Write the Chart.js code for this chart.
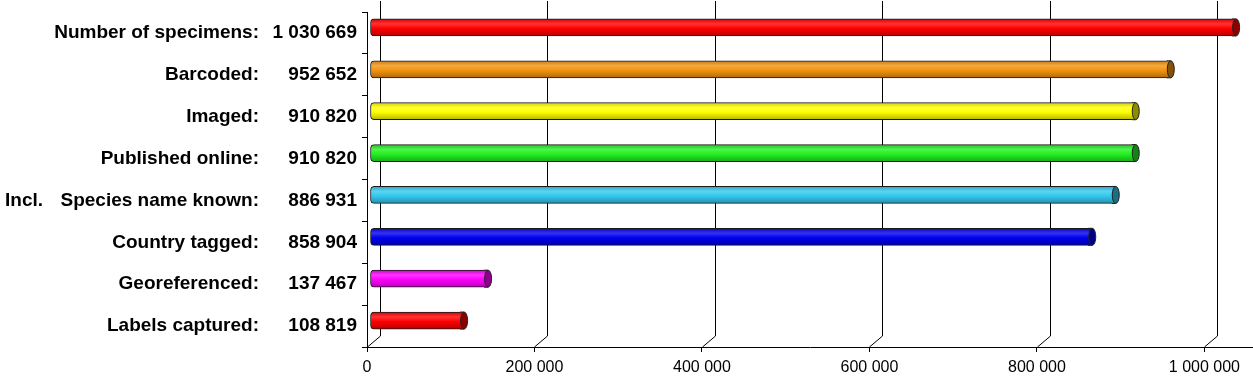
<!DOCTYPE html>
<html>
<head>
<meta charset="utf-8">
<script src="https://cdn.jsdelivr.net/npm/chart.js@4/dist/chart.umd.min.js"></script>
<style>
  body { margin: 0; background: #fff; }
  #wrap { width: 1253px; height: 386px; position: relative; }
</style>
</head>
<body>
<div id="wrap"><canvas id="specimenChart"></canvas></div>
<script>
// values
const categories = ['Number of specimens:', 'Barcoded:', 'Imaged:', 'Published online:',
    'Species name known:', 'Country tagged:', 'Georeferenced:', 'Labels captured:'];
const prefixes = ['', '', '', '', 'Incl.', '', '', ''];
const values = [1030669, 952652, 910820, 910820, 886931, 858904, 137467, 108819];
const barColors = ['#ff0000', '#f39410', '#ffff00', '#22f022', '#33c8ee', '#0000ee', '#ff00ff', '#ff0000'];
const xTicks = [0, 200000, 400000, 600000, 800000, 1000000];

const FONT = '"Liberation Sans", Arial, sans-serif';

function fmt(n) {
    return String(n).replace(/\B(?=(\d{3})+(?!\d))/g, ' ');
}

function shade(hex, f) {
    const n = parseInt(hex.slice(1), 16);
    let r = (n >> 16) & 255, g = (n >> 8) & 255, b = n & 255;
    if (f < 1) {
        r *= f; g *= f; b *= f;
    } else {
        const t = f - 1;
        r += (255 - r) * t; g += (255 - g) * t; b += (255 - b) * t;
    }
    return `rgb(${Math.round(r)},${Math.round(g)},${Math.round(b)})`;
}

function barFill(ctx) {
    const chart = ctx.chart;
    const base = barColors[ctx.dataIndex];
    if (!chart.chartArea || !chart.scales.y) return base;
    const yc = chart.scales.y.getPixelForValue(ctx.dataIndex);
    const g = chart.ctx.createLinearGradient(0, yc - 9, 0, yc + 9);
    g.addColorStop(0, shade(base, 0.8));
    g.addColorStop(0.3, shade(base, 1.2));
    g.addColorStop(0.55, base);
    g.addColorStop(1, shade(base, 0.7));
    return g;
}

// 3D look: back wall grid lines, shifted bars and end caps, left labels
const depthPlugin = {
    id: 'depth',
    beforeDatasetsDraw(chart) {
        const ctx = chart.ctx;
        const x = chart.scales.x;
        const { top, bottom } = chart.chartArea;
        ctx.save();
        ctx.strokeStyle = '#000';
        ctx.lineWidth = 1;
        xTicks.forEach(v => {
            const px = Math.round(x.getPixelForValue(v)) + 0.5;
            ctx.beginPath();
            ctx.moveTo(px, bottom);
            ctx.lineTo(px + 13, bottom - 11);
            ctx.lineTo(px + 13, top - 11);
            ctx.stroke();
        });
        ctx.restore();
        ctx.save();
        ctx.translate(3, -5.5);
    },
    afterDatasetsDraw(chart) {
        const ctx = chart.ctx;
        const meta = chart.getDatasetMeta(0);
        meta.data.forEach((el, i) => {
            const h = el.height / 2;
            // short extension of the tube before the end cap
            ctx.fillStyle = el.options.backgroundColor;
            ctx.fillRect(el.x - 1, el.y - h, 4, el.height);
            ctx.strokeStyle = '#1a1a1a';
            ctx.lineWidth = 1;
            ctx.beginPath();
            ctx.moveTo(el.x - 1, el.y - h);
            ctx.lineTo(el.x + 3, el.y - h);
            ctx.moveTo(el.x - 1, el.y + h);
            ctx.lineTo(el.x + 3, el.y + h);
            ctx.stroke();
            ctx.beginPath();
            ctx.ellipse(el.x + 3, el.y, 3.5, h, 0, 0, Math.PI * 2);
            ctx.fillStyle = shade(barColors[i], 0.55);
            ctx.fill();
            ctx.strokeStyle = '#222';
            ctx.stroke();
        });
        ctx.restore();
    },
    afterDraw(chart) {
        const ctx = chart.ctx;
        const y = chart.scales.y;
        ctx.save();
        ctx.font = 'bold 19px ' + FONT;
        ctx.fillStyle = '#000';
        ctx.textBaseline = 'middle';
        categories.forEach((c, i) => {
            const py = y.getPixelForValue(i);
            ctx.textAlign = 'right';
            ctx.fillText(c, 259, py);
            if (prefixes[i]) {
                ctx.textAlign = 'left';
                ctx.fillText(prefixes[i], 5, py);
            }
        });
        ctx.restore();
    }
};

new Chart(document.getElementById('specimenChart').getContext('2d'), {
    type: 'bar',
    data: {
        labels: categories,
        datasets: [{
            data: values,
            backgroundColor: barFill,
            borderColor: '#1a1a1a',
            borderWidth: 1,
            borderSkipped: false,
            borderRadius: { topLeft: 4, bottomLeft: 4, topRight: 0, bottomRight: 0 },
            barThickness: 17
        }]
    },
    options: {
        indexAxis: 'y',
        responsive: true,
        maintainAspectRatio: false,
        animation: false,
        layout: { padding: { top: 12, right: 0, left: 0, bottom: 0 } },
        plugins: {
            legend: { display: false },
            tooltip: { enabled: false }
        },
        scales: {
            x: {
                min: 0,
                max: 1058000,
                afterBuildTicks: scale => {
                    scale.ticks = xTicks.map(v => ({ value: v }));
                },
                afterFit: scale => {
                    scale.height = 39;
                    scale.paddingLeft = 0;
                    scale.paddingRight = 0;
                },
                grid: { drawOnChartArea: false, tickLength: 5, color: '#000' },
                border: { display: true, color: '#000', width: 1 },
                ticks: {
                    color: '#000',
                    font: { family: FONT, size: 16 },
                    padding: 6,
                    maxRotation: 0,
                    callback: v => fmt(v)
                }
            },
            y: {
                afterFit: scale => {
                    scale.width = 367;
                    scale.paddingTop = 0;
                    scale.paddingBottom = 0;
                },
                grid: { drawOnChartArea: false, tickLength: 5, color: '#000', offset: true },
                border: { display: true, color: '#000', width: 1 },
                ticks: {
                    color: '#000',
                    font: { family: FONT, size: 19, weight: 'bold' },
                    padding: 5,
                    callback: (v, i) => fmt(values[i])
                }
            }
        }
    },
    plugins: [depthPlugin]
});
</script>
</body>
</html>
